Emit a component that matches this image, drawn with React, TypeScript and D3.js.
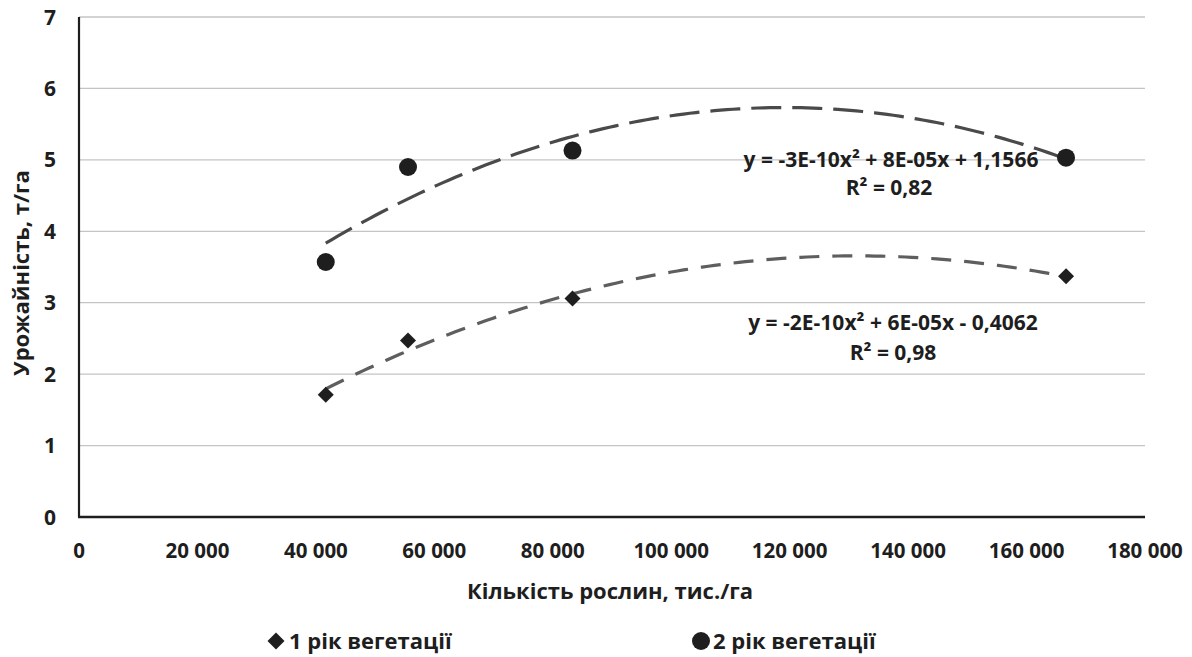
import React from 'react';
import * as d3 from 'd3';

// plant density, plants/ha
const density = [41667, 55556, 83333, 166667];
// yield, t/ha
const year1 = [1.71, 2.47, 3.06, 3.37];
const year2 = [3.57, 4.9, 5.13, 5.03];

const seriesNames = ['1 рік вегетації', '2 рік вегетації'];
const equations = [
  ['y = -2E-10x² + 6E-05x - 0,4062', 'R² = 0,98'],
  ['y = -3E-10x² + 8E-05x + 1,1566', 'R² = 0,82'],
];

const xTicks = [0, 20000, 40000, 60000, 80000, 100000, 120000, 140000, 160000, 180000];
const yTicks = [0, 1, 2, 3, 4, 5, 6, 7];

const W = 1192;
const H = 657;
const FONT = '"Open Sans", Lato, sans-serif';

// least squares quadratic fit (same as Excel polynomial trendline, order 2)
function polyFit(xs: number[], ys: number[]) {
  const s = xs.map((x) => x / 1000);
  const S = (p: number) => d3.sum(s, (x) => Math.pow(x, p));
  const T = (p: number) => d3.sum(s, (x, i) => Math.pow(x, p) * ys[i]);
  const m = [
    [S(4), S(3), S(2), T(2)],
    [S(3), S(2), S(1), T(1)],
    [S(2), S(1), s.length, T(0)],
  ];
  for (let i = 0; i < 3; i++) {
    for (let k = i + 1; k < 3; k++) {
      const f = m[k][i] / m[i][i];
      for (let j = i; j < 4; j++) m[k][j] -= f * m[i][j];
    }
  }
  const c = [0, 0, 0];
  for (let i = 2; i >= 0; i--) {
    let v = m[i][3];
    for (let j = i + 1; j < 3; j++) v -= m[i][j] * c[j];
    c[i] = v / m[i][i];
  }
  return (x: number) => {
    const t = x / 1000;
    return c[0] * t * t + c[1] * t + c[2];
  };
}

const fmt = (v: number) => d3.format(',')(v).replace(/,/g, ' ');

export default function App() {
  const x = d3.scaleLinear().domain([0, 180000]).range([79, 1145]);
  const y = d3.scaleLinear().domain([0, 7]).range([517, 17]);

  const line = d3
    .line<[number, number]>()
    .x((d) => x(d[0]))
    .y((d) => y(d[1]));

  const xs = d3.range(0, 121).map((i) => density[0] + ((density[3] - density[0]) * i) / 120);
  const fit1 = polyFit(density, year1);
  const fit2 = polyFit(density, year2);
  const trend1 = line(xs.map((v) => [v, fit1(v)] as [number, number]));
  const trend2 = line(xs.map((v) => [v, fit2(v)] as [number, number]));

  const diamond = 'M0,-8L8,0L0,8L-8,0Z';
  const ink = '#1e1e1e';

  return (
    <svg width={W} height={H} style={{ position: 'absolute', left: 0, top: 0, background: '#fff' }} fontFamily={FONT} fontWeight="bold">
      {/* grid */}
      {yTicks.slice(1).map((t) => (
        <line key={t} x1={x(0)} x2={x(180000)} y1={y(t)} y2={y(t)} stroke="#c4c4c4" strokeWidth={1.3} />
      ))}
      {/* axes */}
      <line x1={x(0)} x2={x(0)} y1={y(7)} y2={y(0)} stroke={ink} strokeWidth={2.2} />
      <line x1={x(0) - 1} x2={x(180000)} y1={y(0)} y2={y(0)} stroke={ink} strokeWidth={2.5} />

      {yTicks.map((t) => (
        <text key={t} x={56} y={y(t)} dy="0.36em" textAnchor="end" fontSize={21} fill={ink}>
          {t}
        </text>
      ))}
      {xTicks.map((t) => (
        <text key={t} x={x(t)} y={551} dy="0.36em" textAnchor="middle" fontSize={20.5} fill={ink}>
          {fmt(t)}
        </text>
      ))}

      <text x={610} y={591} dy="0.36em" textAnchor="middle" fontSize={22} fill={ink}>
        Кількість рослин, тис./га
      </text>
      <text transform="translate(21,273) rotate(-90)" dy="0.36em" textAnchor="middle" fontSize={22} fill={ink}>
        Урожайність, т/га
      </text>

      {/* trend lines */}
      <path d={trend2 || ''} fill="none" stroke="#4a4a4a" strokeWidth={3.2} strokeDasharray="30 11" />
      <path d={trend1 || ''} fill="none" stroke="#5e5e5e" strokeWidth={3.2} strokeDasharray="20 13" />

      {/* points */}
      {density.map((d, i) => (
        <path key={'a' + i} d={diamond} transform={`translate(${x(d)},${y(year1[i])})`} fill={ink} />
      ))}
      {density.map((d, i) => (
        <circle key={'b' + i} cx={x(d)} cy={y(year2[i])} r={9} fill={ink} />
      ))}

      {/* equations */}
      <text x={891} y={159} dy="0.36em" textAnchor="middle" fontSize={21} fill={ink}>{equations[1][0]}</text>
      <text x={889} y={187} dy="0.36em" textAnchor="middle" fontSize={21} fill={ink}>{equations[1][1]}</text>
      <text x={893} y={322} dy="0.36em" textAnchor="middle" fontSize={21} fill={ink}>{equations[0][0]}</text>
      <text x={893} y={352} dy="0.36em" textAnchor="middle" fontSize={21} fill={ink}>{equations[0][1]}</text>

      {/* legend */}
      <path d="M0,-8.5L8.5,0L0,8.5L-8.5,0Z" transform="translate(276,641)" fill={ink} />
      <text x={289} y={641} dy="0.36em" fontSize={22} fill={ink}>{seriesNames[0]}</text>
      <circle cx={701} cy={641} r={9} fill={ink} />
      <text x={713} y={641} dy="0.36em" fontSize={22} fill={ink}>{seriesNames[1]}</text>
    </svg>
  );
}
